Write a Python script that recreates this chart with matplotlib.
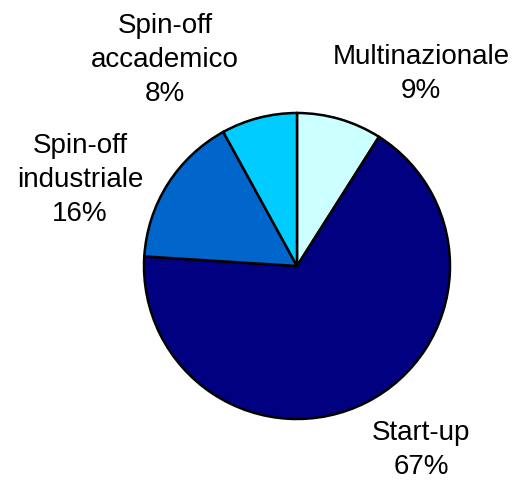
import matplotlib.pyplot as plt

categorie = ["Multinazionale", "Start-up", "Spin-off\nindustriale", "Spin-off\naccademico"]
percentuali = [9, 67, 16, 8]
colori = ["#CCFFFF", "#000080", "#0066CC", "#00CCFF"]

# posizioni delle etichette (pixel, origine in basso a sinistra)
pos_etichette = [(421, 480 - 74), (421, 480 - 450), (80, 480 - 180), (165, 480 - 60)]

plt.rcParams["font.family"] = ["Liberation Sans", "DejaVu Sans"]

fig = plt.figure(figsize=(5.14, 4.8), dpi=100)
ax = fig.add_axes([0, 0, 1, 1])

ax.pie(percentuali, colors=colori, startangle=90, counterclock=False,
       center=(297, 480 - 266), radius=153,
       wedgeprops={"edgecolor": "black", "linewidth": 1.8})

for nome, val, (x, y) in zip(categorie, percentuali, pos_etichette):
    ax.text(x, y, f"{nome}\n{val}%", ha="center", va="center",
            fontsize=20, linespacing=1.38)

ax.set_xlim(0, 514)
ax.set_ylim(0, 480)
ax.set_aspect("equal")
ax.axis("off")

fig.savefig("out.png", dpi=100)
